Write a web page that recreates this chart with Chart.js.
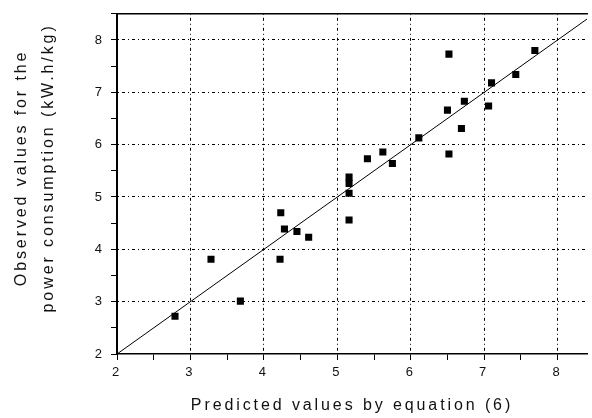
<!DOCTYPE html>
<html>
<head>
<meta charset="utf-8">
<script src="https://cdn.jsdelivr.net/npm/chart.js@4/dist/chart.umd.min.js"></script>
<style>
  html, body { margin: 0; padding: 0; background: #ffffff; }
  #c { display: block; }
</style>
</head>
<body>
<canvas id="c" width="592" height="418"></canvas>
<script>
// ---- data ----
const predicted = [2.79, 3.28, 3.68, 4.23, 4.28, 4.22, 4.45, 4.61, 5.16, 5.16, 5.16, 5.16, 5.41, 5.62, 5.75, 6.11, 6.52, 6.50, 6.52, 6.69, 6.73, 7.06, 7.10, 7.43, 7.69];
const observed  = [2.72, 3.81, 3.01, 4.70, 4.39, 3.81, 4.34, 4.23, 4.56, 5.07, 5.26, 5.38, 5.73, 5.86, 5.64, 6.13, 5.82, 6.66, 7.73, 6.31, 6.83, 6.74, 7.18, 7.34, 7.80];
const fitLineX = [2, 8.4];
const fitLineY = [2, 8.4];
const xRange = [2, 8.4];
const yRange = [2, 8.5];
const xTitle = 'Predicted values by equation (6)';
const yTitle = ['Observed values for the', 'power consumption (kW.h/kg)'];

const FONT = "'Liberation Sans', Arial, sans-serif";

const scatterPoints = predicted.map((x, i) => ({ x: x, y: observed[i] }));
const linePoints = fitLineX.map((x, i) => ({ x: x, y: fitLineY[i] }));

const isWhole = v => Math.abs(v - Math.round(v)) < 1e-9;

const spacingPlugin = {
  id: 'spacing',
  beforeDraw(chart) { chart.ctx.letterSpacing = '2.9px'; },
  afterLayout(chart) {
    // the reference's y-axis title sits a little above the axis centre
    const s = chart.scales.y;
    if (s && !s.__shifted) {
      const orig = s.drawTitle.bind(s);
      s.drawTitle = function () {
        const ctx = this.ctx;
        ctx.save();
        ctx.translate(0, -16);
        orig();
        ctx.restore();
      };
      s.__shifted = true;
    }
  }
};

new Chart(document.getElementById('c'), {
  data: {
    datasets: [
      {
        type: 'line',
        data: linePoints,
        borderColor: '#000000',
        borderWidth: 1,
        pointRadius: 0,
        fill: false,
        order: 2
      },
      {
        type: 'scatter',
        data: scatterPoints,
        pointStyle: 'rect',
        pointRadius: 5,
        pointBorderWidth: 0,
        pointBackgroundColor: '#000000',
        pointBorderColor: '#000000',
        order: 1
      }
    ]
  },
  options: {
    responsive: false,
    devicePixelRatio: 1,
    animation: false,
    events: [],
    layout: { padding: { top: 9, right: 0, bottom: 0, left: 0 } },
    plugins: { legend: { display: false }, tooltip: { enabled: false } },
    scales: {
      x: {
        type: 'linear',
        position: 'bottom',
        min: xRange[0],
        max: xRange[1],
        afterFit(scale) { scale.height = 64; },
        ticks: {
          stepSize: 0.5,
          includeBounds: false,
          autoSkip: false,
          maxRotation: 0,
          padding: 5,
          color: '#111111',
          font: { family: FONT, size: 13 },
          callback: v => isWhole(v) ? String(v) : ''
        },
        grid: {
          color: c => (c.tick && isWhole(c.tick.value) && c.tick.value !== xRange[0]) ? '#000000' : 'rgba(0,0,0,0)',
          lineWidth: 1,
          tickColor: '#000000',
          tickLength: 6,
          tickWidth: 1,
          tickBorderDash: []
        },
        border: { display: true, color: '#000000', width: 1.5, dash: [1, 3, 3, 3] },
        title: {
          display: true,
          text: xTitle,
          color: '#111111',
          font: { family: FONT, size: 16, lineHeight: 1.25 },
          padding: { top: 0, bottom: 2 }
        }
      },
      x2: {
        type: 'linear',
        position: 'top',
        min: xRange[0],
        max: xRange[1],
        afterFit(scale) { scale.height = 0; },
        ticks: { display: false },
        grid: { display: false, drawTicks: false },
        border: { display: true, color: '#000000', width: 1.5 }
      },
      y: {
        type: 'linear',
        position: 'left',
        min: yRange[0],
        max: yRange[1],
        afterFit(scale) { scale.width = 117; },
        ticks: {
          stepSize: 0.5,
          includeBounds: false,
          autoSkip: false,
          padding: 6,
          color: '#111111',
          font: { family: FONT, size: 13 },
          callback: v => isWhole(v) ? String(v) : ''
        },
        grid: {
          color: c => (c.tick && isWhole(c.tick.value) && c.tick.value !== yRange[0]) ? '#000000' : 'rgba(0,0,0,0)',
          lineWidth: 1,
          tickColor: '#000000',
          tickLength: 6,
          tickWidth: 1,
          tickBorderDash: []
        },
        border: { display: true, color: '#000000', width: 2, dash: [1, 3, 3, 3] },
        title: {
          display: true,
          text: yTitle,
          color: '#111111',
          font: { family: FONT, size: 16, lineHeight: 1.7 },
          padding: { top: 8, bottom: 0 }
        }
      }
    }
  },
  plugins: [spacingPlugin]
});
</script>
</body>
</html>
